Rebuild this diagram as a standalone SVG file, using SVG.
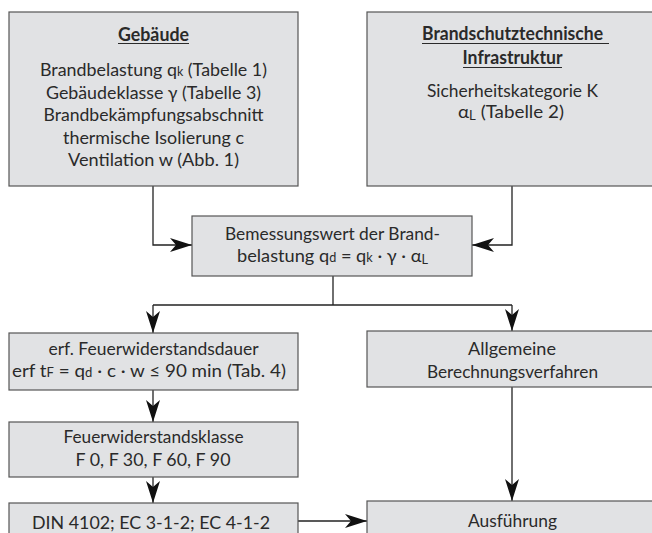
<svg xmlns="http://www.w3.org/2000/svg" width="652" height="533" viewBox="0 0 652 533">
<style>
.box{fill:#e1e2e4;stroke:#555;stroke-width:1.2}
.t{font-family:Lato,"Open Sans","Liberation Sans",sans-serif;font-size:18px;fill:#2a2a2a;text-anchor:middle}
.b{font-weight:bold}
.sub{font-size:12.5px}
.ul{stroke:#2a2a2a;stroke-width:1.2}
.c{fill:none;stroke:#222;stroke-width:1.3}
</style>
<defs>
<marker id="ah" markerUnits="userSpaceOnUse" markerWidth="24" markerHeight="16" refX="22" refY="7" orient="auto">
<path d="M0,0 L22,7 L0,14 L6,7 z" fill="#111"/>
</marker>
</defs>
<g id="connectors">
<path class="c" d="M153,186 V245 H192" marker-end="url(#ah)"/>
<path class="c" d="M512,186 V245 H472" marker-end="url(#ah)"/>
<path class="c" d="M333,276 V305"/>
<path class="c" d="M153,305 H512"/>
<path class="c" d="M153,305 V333" marker-end="url(#ah)"/>
<path class="c" d="M512,305 V331" marker-end="url(#ah)"/>
<path class="c" d="M153,390 V422" marker-end="url(#ah)"/>
<path class="c" d="M153,477 V503" marker-end="url(#ah)"/>
<path class="c" d="M298,521 H367" marker-end="url(#ah)"/>
<path class="c" d="M512,387 V501" marker-end="url(#ah)"/>
</g>
<g id="gebaeude">
<rect class="box" x="9" y="12" width="289" height="174"/>
<text class="t b" x="153.5" y="40.5" textLength="71" lengthAdjust="spacingAndGlyphs">Gebäude</text>
<line class="ul" x1="118" y1="43.5" x2="189" y2="43.5"/>
<text class="t" x="153.5" y="76" textLength="227" lengthAdjust="spacingAndGlyphs">Brandbelastung q<tspan class="sub">k</tspan> (Tabelle 1)</text>
<text class="t" x="153.5" y="98.5" textLength="215" lengthAdjust="spacingAndGlyphs">Gebäudeklasse γ (Tabelle 3)</text>
<text class="t" x="153.5" y="121" textLength="220" lengthAdjust="spacingAndGlyphs">Brandbekämpfungsabschnitt</text>
<text class="t" x="153.5" y="143.5" textLength="181" lengthAdjust="spacingAndGlyphs">thermische Isolierung c</text>
<text class="t" x="153.5" y="166" textLength="171" lengthAdjust="spacingAndGlyphs">Ventilation w (Abb. 1)</text>
</g>
<g id="infrastruktur">
<rect class="box" x="367" y="12" width="295" height="174"/>
<text class="t b" x="512.5" y="39.5" textLength="181" lengthAdjust="spacingAndGlyphs">Brandschutztechnische</text>
<line class="ul" x1="422" y1="43.5" x2="609" y2="43.5"/>
<text class="t b" x="512.5" y="64" textLength="100" lengthAdjust="spacingAndGlyphs">Infrastruktur</text>
<line class="ul" x1="463" y1="67.5" x2="562" y2="67.5"/>
<text class="t" x="512.5" y="97" textLength="171" lengthAdjust="spacingAndGlyphs">Sicherheitskategorie K</text>
<text class="t" x="511" y="118" textLength="106" lengthAdjust="spacingAndGlyphs">α<tspan class="sub" dy="2">L</tspan><tspan dy="-2"> (Tabelle 2)</tspan></text>
</g>
<g id="bemessung">
<rect class="box" x="192" y="216" width="280" height="60"/>
<text class="t" x="332.5" y="240" textLength="215" lengthAdjust="spacingAndGlyphs">Bemessungswert der Brand-</text>
<text class="t" x="332.5" y="261.5" textLength="191" lengthAdjust="spacingAndGlyphs">belastung q<tspan class="sub">d</tspan> = q<tspan class="sub">k</tspan> · γ · α<tspan class="sub" dy="2">L</tspan></text>
</g>
<g id="feuerwiderstandsdauer">
<rect class="box" x="9" y="333" width="289" height="57"/>
<text class="t" x="153.5" y="355" textLength="210" lengthAdjust="spacingAndGlyphs">erf. Feuerwiderstandsdauer</text>
<text class="t" x="149" y="377" textLength="274" lengthAdjust="spacingAndGlyphs">erf t<tspan class="sub">F</tspan> = q<tspan class="sub">d</tspan> · c · w ≤ 90 min (Tab. 4)</text>
</g>
<g id="feuerwiderstandsklasse">
<rect class="box" x="9" y="422" width="289" height="55"/>
<text class="t" x="153.5" y="443" textLength="180" lengthAdjust="spacingAndGlyphs">Feuerwiderstandsklasse</text>
<text class="t" x="153" y="466" textLength="155" lengthAdjust="spacingAndGlyphs">F 0, F 30, F 60, F 90</text>
</g>
<g id="din">
<rect class="box" x="9" y="503" width="289" height="40"/>
<text class="t" x="151" y="529" textLength="238" lengthAdjust="spacingAndGlyphs">DIN 4102; EC 3-1-2; EC 4-1-2</text>
</g>
<g id="allgemeine">
<rect class="box" x="367" y="331" width="295" height="56"/>
<text class="t" x="512" y="355" textLength="88" lengthAdjust="spacingAndGlyphs">Allgemeine</text>
<text class="t" x="512.5" y="378" textLength="171" lengthAdjust="spacingAndGlyphs">Berechnungsverfahren</text>
</g>
<g id="ausfuehrung">
<rect class="box" x="367" y="501" width="295" height="42"/>
<text class="t" x="512.5" y="527" textLength="89" lengthAdjust="spacingAndGlyphs">Ausführung</text>
</g>
</svg>
